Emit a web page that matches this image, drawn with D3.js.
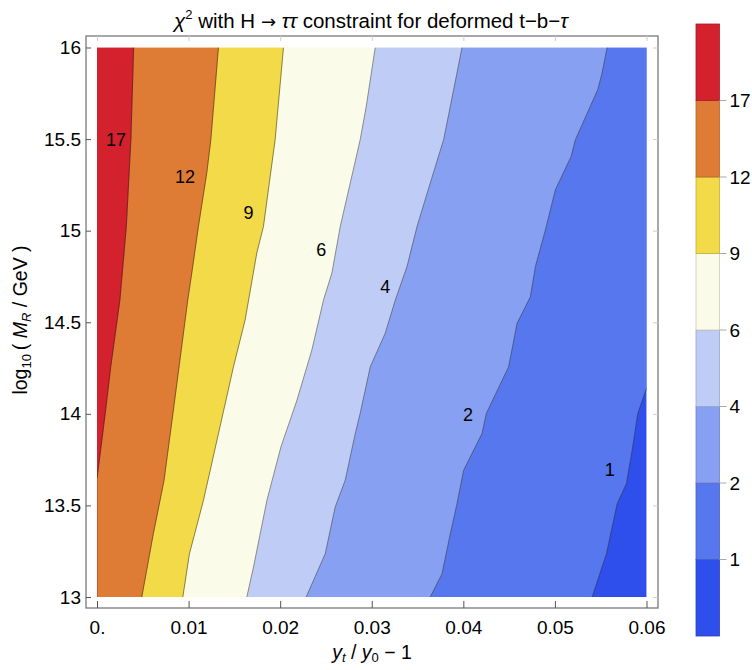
<!DOCTYPE html>
<html><head><meta charset="utf-8">
<script src="https://cdn.jsdelivr.net/npm/d3@7"></script>
<style>
body{margin:0;background:#fff}
text{font-family:"Liberation Sans",Arial,sans-serif;fill:#000}
</style>
</head><body>
<svg id="chart" width="752" height="670"></svg>
<script>
// ---------- data ----------
const xTicks = [0, 0.01, 0.02, 0.03, 0.04, 0.05, 0.06];
const xTickLabels = ["0.", "0.01", "0.02", "0.03", "0.04", "0.05", "0.06"];
const yTicks = [13, 13.5, 14, 14.5, 15, 15.5, 16];
const yTickLabels = ["13", "13.5", "14", "14.5", "15", "15.5", "16"];
const levels = [1, 2, 4, 6, 9, 12, 17];
// colours of the 8 bands, from lowest (<1) to highest (>17)
const bandColors = ["#2f4fec", "#5777ee", "#87a0f1", "#bfcdf6", "#fafbe9", "#f3da48", "#de7c36", "#d3222e"];

// contour lines: [x = y_t/y_0 - 1, y = log10(M_R/GeV)], top to bottom
const contour17 = [[0.0040,16],[0.0037,15.497],[0.0032,15.022],[0.0025,14.621],[0.0015,14.257],[0.0009,14.003],[0,13.648]];
const contour12 = [[0.01326,16],[0.01243,15.497],[0.01199,15.316],[0.01107,15.022],[0.01035,14.769],[0.00991,14.621],[0.00834,14.020],[0.00732,13.637],[0.00615,13.345],[0.00489,13]];
const contour9  = [[0.02036,16],[0.01945,15.497],[0.01817,15.022],[0.01745,14.879],[0.01617,14.512],[0.01490,14.257],[0.01326,13.892],[0.01162,13.527],[0.01009,13.236],[0.00937,13]];
const contour6  = [[0.03038,16],[0.02940,15.679],[0.02874,15.497],[0.02656,15.022],[0.02565,14.769],[0.02473,14.621],[0.02346,14.348],[0.02183,14.074],[0.02008,13.819],[0.01855,13.527],[0.01708,13.162],[0.01636,13]];
const contour4  = [[0.03986,16],[0.03858,15.679],[0.03785,15.497],[0.03639,15.260],[0.03494,15.022],[0.03385,14.804],[0.03257,14.621],[0.03148,14.441],[0.02984,14.257],[0.02874,14.003],[0.02820,13.892],[0.02710,13.637],[0.02601,13.491],[0.02492,13.236],[0.02284,13]];
const contour2  = [[0.05570,16],[0.05516,15.862],[0.05468,15.770],[0.05224,15.497],[0.05177,15.405],[0.05005,15.223],[0.04896,15.004],[0.04787,14.804],[0.04732,14.639],[0.04587,14.494],[0.04495,14.257],[0.04251,14.002],[0.04204,13.892],[0.04003,13.691],[0.03931,13.509],[0.03858,13.345],[0.03767,13.126],[0.03639,13]];
const contour1  = [[0.06,14.138],[0.05905,14.002],[0.05844,13.801],[0.05781,13.619],[0.05680,13.509],[0.05563,13.236],[0.05407,13]];
const contours = [contour1, contour2, contour4, contour6, contour9, contour12, contour17];

// contour label positions [x, y]
const contourLabelPos = [[0.05599,13.695],[0.04051,13.996],[0.03148,14.694],[0.02448,14.895],[0.01654,15.099],[0.00962,15.296],[0.00208,15.497]];

// ---------- layout ----------
const FONT = '"Liberation Sans",Arial,sans-serif';
const svg = d3.select("#chart");
const plot = {left: 97, right: 646.5, top: 47.5, bottom: 597};
const frame = {left: 86, right: 658, top: 36, bottom: 608};
const xDom = [0, 0.06], yDom = [13, 16];
const x = d3.scaleLinear().domain(xDom).range([plot.left, plot.right]);
const y = d3.scaleLinear().domain(yDom).range([plot.bottom, plot.top]);

svg.append("defs").append("clipPath").attr("id", "clip")
  .append("rect").attr("x", plot.left).attr("y", plot.top)
  .attr("width", plot.right - plot.left).attr("height", plot.bottom - plot.top);

// band polygons
function extend(pts) {
  const out = pts.slice();
  if (out[0][1] < yDom[1]) out.unshift([out[0][0], yDom[1]]);
  const l = out[out.length - 1];
  if (l[1] > yDom[0]) out.push([l[0], yDom[0]]);
  return out;
}
const leftEdge = [[xDom[0], yDom[1]], [xDom[0], yDom[0]]];
const rightEdge = [[xDom[1], yDom[1]], [xDom[1], yDom[0]]];
const bands = bandColors.map((c, i) => {
  const leftB = i < contours.length ? contours[i] : leftEdge;
  const rightB = i === 0 ? rightEdge : contours[i - 1];
  const poly = extend(leftB).concat(extend(rightB).reverse());
  return {color: c, poly};
});
const line = d3.line().x(d => x(d[0])).y(d => y(d[1]));
const g = svg.append("g").attr("clip-path", "url(#clip)");
g.selectAll("path.band").data(bands).join("path")
  .attr("class", "band")
  .attr("d", d => line(d.poly) + "Z")
  .attr("fill", d => d.color)
  .attr("stroke", d => d.color).attr("stroke-width", 0.5);
g.selectAll("path.cl").data(contours).join("path")
  .attr("class", "cl")
  .attr("d", d => line(d))
  .attr("fill", "none")
  .attr("stroke", "#000").attr("stroke-opacity", 0.55).attr("stroke-width", 0.8);

// contour labels
svg.selectAll("text.clab").data(levels).join("text")
  .attr("class", "clab")
  .attr("x", (d, i) => x(contourLabelPos[i][0]))
  .attr("y", (d, i) => y(contourLabelPos[i][1]))
  .attr("text-anchor", "middle").attr("dy", "0.36em")
  .attr("font-size", 18)
  .text(d => d);

// frame
svg.append("rect").attr("x", frame.left).attr("y", frame.top)
  .attr("width", frame.right - frame.left).attr("height", frame.bottom - frame.top)
  .attr("fill", "none").attr("stroke", "#6e6e6e").attr("stroke-width", 1.2);

// axes (ticks)
const xAxis = d3.axisBottom(x).tickValues(xTicks).tickFormat((d, i) => xTickLabels[i]).tickSizeInner(-7).tickSizeOuter(0).tickPadding(13);
const gx = svg.append("g").attr("transform", `translate(0,${frame.bottom})`).call(xAxis);
gx.select(".domain").remove();
gx.selectAll(".tick line").attr("stroke", "#555");
gx.selectAll(".tick text").attr("font-size", 19).attr("font-family", FONT);

const yAxis = d3.axisLeft(y).tickValues(yTicks).tickFormat((d, i) => yTickLabels[i]).tickSizeInner(-5).tickSizeOuter(0).tickPadding(5);
const gy = svg.append("g").attr("transform", `translate(${frame.left},0)`).call(yAxis);
gy.select(".domain").remove();
gy.selectAll(".tick line").attr("stroke", "#555");
gy.selectAll(".tick text").attr("font-size", 19).attr("font-family", FONT);

// faint ticks on top and right
const gxt = svg.append("g").attr("transform", `translate(0,${frame.top})`)
  .call(d3.axisTop(x).tickValues(xTicks).tickFormat("").tickSizeInner(-5).tickSizeOuter(0));
gxt.select(".domain").remove(); gxt.selectAll(".tick line").attr("stroke", "#ccc");
const gyr = svg.append("g").attr("transform", `translate(${frame.right},0)`)
  .call(d3.axisRight(y).tickValues(yTicks).tickFormat("").tickSizeInner(-5).tickSizeOuter(0));
gyr.select(".domain").remove(); gyr.selectAll(".tick line").attr("stroke", "#ccc");

// title
const title = svg.append("text").attr("x", 371).attr("y", 28).attr("text-anchor", "middle").attr("font-size", 20.5);
title.append("tspan").attr("font-style", "italic").text("χ");
title.append("tspan").attr("font-size", 13).attr("dy", -9).text("2");
title.append("tspan").attr("dy", 9).text(" with H ");
title.append("tspan").attr("font-family", '"DejaVu Sans",sans-serif').attr("font-size", 18).text("→");
title.append("tspan").text(" ");
title.append("tspan").attr("font-style", "italic").text("ττ");
title.append("tspan").text(" constraint for deformed t−b−");
title.append("tspan").attr("font-style", "italic").text("τ");

// x axis label
const xl = svg.append("text").attr("x", 372).attr("y", 659).attr("text-anchor", "middle").attr("font-size", 19.5);
xl.append("tspan").attr("font-style", "italic").text("y");
xl.append("tspan").attr("font-style", "italic").attr("font-size", 13).attr("dy", 3).text("t");
xl.append("tspan").attr("dy", -3).text(" / ");
xl.append("tspan").attr("font-style", "italic").text("y");
xl.append("tspan").attr("font-size", 13).attr("dy", 3).text("0");
xl.append("tspan").attr("dy", -3).text(" − 1");

// y axis label
const yl = svg.append("text").attr("transform", "translate(27,320) rotate(-90)").attr("text-anchor", "middle").attr("font-size", 19.5);
yl.append("tspan").text("log");
yl.append("tspan").attr("font-size", 13).attr("dy", 4).text("10");
yl.append("tspan").attr("dy", -4).text("\u2009( ");
yl.append("tspan").attr("font-style", "italic").text("M");
yl.append("tspan").attr("font-style", "italic").attr("font-size", 13).attr("dy", 4).text("R");
yl.append("tspan").attr("dy", -4).text(" / GeV )");

// legend colour bar
const leg = {left: 696, right: 719.5, top: 24, bottom: 636};
const ly = d3.scaleLinear().domain([0, bandColors.length]).range([leg.bottom, leg.top]);
const lg = svg.append("g");
lg.selectAll("rect").data(bandColors).join("rect")
  .attr("x", leg.left).attr("width", leg.right - leg.left)
  .attr("y", (d, i) => ly(i + 1)).attr("height", (d, i) => ly(i) - ly(i + 1))
  .attr("fill", d => d).attr("stroke", d => d3.color(d).darker(0.6)).attr("stroke-width", 0.8);
lg.selectAll("line").data(levels).join("line")
  .attr("x1", leg.right).attr("x2", leg.right + 7)
  .attr("y1", (d, i) => ly(i + 1)).attr("y2", (d, i) => ly(i + 1))
  .attr("stroke", "#aaa");
lg.selectAll("text").data(levels).join("text")
  .attr("x", leg.right + 10).attr("y", (d, i) => ly(i + 1)).attr("dy", "0.36em")
  .attr("font-size", 19).text(d => d);
</script>
</body></html>
